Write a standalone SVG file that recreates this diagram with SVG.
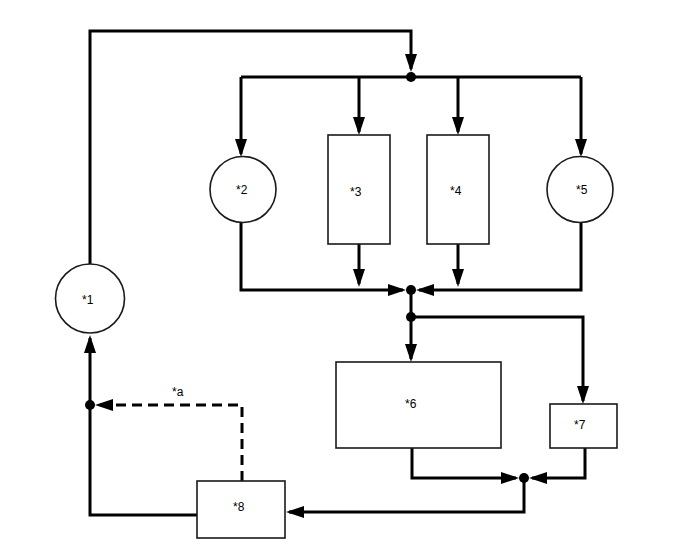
<svg xmlns="http://www.w3.org/2000/svg" width="688" height="560" viewBox="0 0 688 560">
<defs>
<marker id="arr" viewBox="0 0 18 12" refX="15" refY="6" markerWidth="18" markerHeight="12" markerUnits="userSpaceOnUse" orient="auto">
<path d="M0,0 L18,6 L0,12 z" fill="#000"/>
</marker>
<style>
.node rect, .node circle { fill: #fff; stroke: #1a1a1a; stroke-width: 1.6; }
.node text, .lbl { font-family: "Liberation Sans", Arial, sans-serif; font-size: 12px; fill: #000; }
.ln { fill: none; stroke: #000; stroke-width: 3; }
.arrow { marker-end: url(#arr); }
.dash { stroke-dasharray: 10 6; }
.dot { fill: #000; }
</style>
</defs>
<rect width="688" height="560" fill="#fff"/>
<g id="connectors">
<path class="ln arrow" d="M90,264 V31 H411 V69"/>
<path class="ln" d="M241,77 H581"/>
<path class="ln arrow" d="M241,77 V154"/>
<path class="ln arrow" d="M359,77 V132"/>
<path class="ln arrow" d="M458,77 V132"/>
<path class="ln arrow" d="M581,77 V154"/>
<path class="ln arrow" d="M241,222 V290 H403"/>
<path class="ln arrow" d="M359,244 V284"/>
<path class="ln arrow" d="M458,244 V284"/>
<path class="ln arrow" d="M581,222 V290 H419"/>
<path class="ln" d="M411,290 V317"/>
<path class="ln arrow" d="M411,317 H583 V401"/>
<path class="ln arrow" d="M411,317 V359"/>
<path class="ln arrow" d="M412,448 V478 H516"/>
<path class="ln arrow" d="M585,448 V478 H532"/>
<path class="ln arrow" d="M524,478 V512 H289"/>
<path class="ln arrow" d="M197,515 H90 V338"/>
<path class="ln arrow dash" d="M242,481 V405 H98"/>
<circle class="dot" cx="411" cy="77" r="5"/>
<circle class="dot" cx="411" cy="290" r="5"/>
<circle class="dot" cx="411" cy="317" r="5"/>
<circle class="dot" cx="524" cy="478" r="5"/>
<circle class="dot" cx="90" cy="405" r="5"/>
<text class="lbl" x="172" y="396">*a</text>
</g>
<g id="n1" class="node"><circle cx="90" cy="298.5" r="34.5"/><text x="82" y="304">*1</text></g>
<g id="n2" class="node"><circle cx="243" cy="189.5" r="33"/><text x="236" y="194">*2</text></g>
<g id="n3" class="node"><rect x="328" y="135" width="62" height="109"/><text x="350" y="196">*3</text></g>
<g id="n4" class="node"><rect x="427" y="135" width="62" height="109"/><text x="450" y="195">*4</text></g>
<g id="n5" class="node"><circle cx="580" cy="189.5" r="33"/><text x="576" y="194">*5</text></g>
<g id="n6" class="node"><rect x="336" y="362" width="165" height="86"/><text x="405" y="408">*6</text></g>
<g id="n7" class="node"><rect x="550" y="404" width="67" height="44"/><text x="574" y="429">*7</text></g>
<g id="n8" class="node"><rect x="197" y="481" width="88" height="57"/><text x="233" y="511">*8</text></g>
</svg>
